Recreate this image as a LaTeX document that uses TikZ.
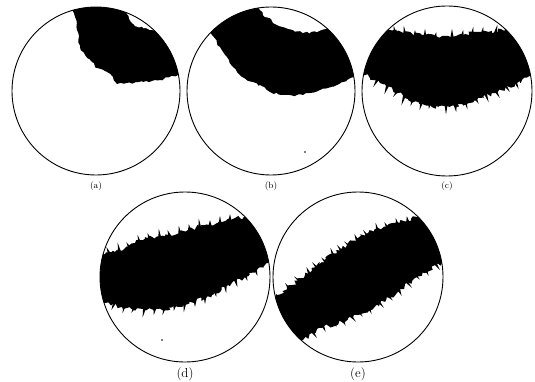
\documentclass[tikz,border=0pt]{standalone}
\usetikzlibrary{decorations.pathmorphing}
\begin{document}
\begin{tikzpicture}[x=1pt,y=-1pt,
  rim/.style={draw=black,line width=0.9pt},
  blob/.style={fill=black,decorate,decoration={random steps,segment length=3pt,amplitude=1.2pt}},
  hairy/.style={fill=black,decorate,decoration={random steps,segment length=2.5pt,amplitude=2.2pt}},
  hole/.style={fill=white,decorate,decoration={random steps,segment length=3pt,amplitude=1.2pt}},
  toplabel/.style={font=\fontsize{9}{10}\selectfont,inner sep=0pt},
  botlabel/.style={font=\fontsize{13}{15}\selectfont,inner sep=0pt}]
\newcommand{\myspike}[4]{\fill (#1-1.8,#2-0.4*#4) -- (#1+1.2*#3,#2+1.2*#4) -- (#1+1.8,#2-0.4*#4) -- cycle;}
\useasboundingbox (0,0) rectangle (535,382);
% (a)
\begin{scope}
  \pgfmathsetseed{11}
  \clip (96,91) circle (84);
  \path[blob] (68,-5) -- (72,8) -- (75,17) -- (77,30) -- (80,47) -- (85,55) -- (92,62) -- (97,68) -- (107,72) -- (113,77) -- (117,84) -- (143,82) -- (160,80) -- (178,75) -- (200,70) -- (200,-5) -- cycle;
  \path[hole] (124,-5) -- (127,14) -- (131,22) -- (135,26) -- (143,28) -- (150,30) -- (156,31) -- (160,29) -- (172,-5) -- cycle;
\end{scope}
\draw[rim] (96,91) circle (84);
% (b)
\begin{scope}
  \pgfmathsetseed{23}
  \clip (271,91) circle (84);
  \path[blob] (200,25) -- (212,35) -- (220,47) -- (227,57) -- (233,67) -- (237,72) -- (242,77) -- (253,82) -- (260,85) -- (270,92) -- (283,95) -- (303,95) -- (320,90) -- (337,85) -- (347,80) -- (355,77) -- (372,72) -- (372,-5) -- (200,-5) -- cycle;
  \path[hole] (257,-5) -- (260,10) -- (263,15) -- (270,18) -- (273,23) -- (277,25) -- (283,27) -- (293,30) -- (303,33) -- (317,32) -- (325,29) -- (332,27) -- (342,-5) -- cycle;
\end{scope}
\draw[rim] (271,91) circle (84);
\fill (305,152) circle (0.8);
% (c)
\begin{scope}
  \pgfmathsetseed{37}
  \clip (447,91) circle (85);
  \path[hairy] (340,75) -- (365,75) -- (380,83) -- (398,93) -- (408,100) -- (422,104) -- (438,107) -- (455,107) -- (475,100) -- (495,93) -- (515,84) -- (532,75) -- (550,75) -- (550,15) -- (520,15) -- (505,29) -- (488,32) -- (465,34) -- (442,36) -- (422,35) -- (398,32) -- (388,30) -- (370,15) -- (340,15) -- cycle;
  \foreach \x/\y/\u/\v in {378/81/-4/5, 388/87/-3/6, 398/92/-4/4, 405/97/-3/7, 413/100/-2/5, 422/103/-2/6, 430/104/-1/4, 446/106/0/7, 455/106/1/5, 465/102/2/6, 475/99/3/4, 485/95/3/6, 495/92/4/5, 505/87/4/4, 515/83/3/5,
                         395/32/-1/-5, 405/34/-1/-7, 415/35/0/-4, 425/36/0/-6, 435/37/1/-4, 452/36/0/-6, 462/35/1/-4, 472/34/1/-6, 482/33/1/-5, 495/32/2/-6}
    {\myspike{\x}{\y}{\u}{\v}}
\end{scope}
\draw[rim] (447,91) circle (85);
% (d)
\begin{scope}
  \pgfmathsetseed{41}
  \clip (185,277) circle (85);
  \path[hairy] (80,258) -- (102,253) -- (115,252) -- (128,247) -- (135,243) -- (148,238) -- (168,235) -- (188,230) -- (205,225) -- (222,222) -- (235,218) -- (247,216) -- (280,205) -- (285,262) -- (268,263) -- (245,277) -- (228,285) -- (212,295) -- (195,302) -- (178,307) -- (162,310) -- (145,310) -- (122,307) -- (105,303) -- (80,303) -- cycle;
  \foreach \x/\y/\u/\v in {110/253/-3/-5, 120/251/-2/-7, 130/247/-3/-4, 140/242/-2/-6, 150/239/-2/-5, 160/237/-1/-7, 170/235/-2/-4, 180/233/-1/-6, 190/230/-1/-5, 200/227/-1/-7, 210/225/0/-4, 220/223/0/-6, 230/220/0/-5,
                         115/304/-3/5, 125/306/-2/6, 135/308/-3/4, 145/309/-2/7, 155/309/-1/5, 165/308/-2/6, 175/306/-1/4, 185/304/-1/7, 195/301/0/5, 205/297/0/6, 215/292/1/4, 225/286/1/6, 235/281/2/5, 245/276/2/4, 255/270/2/5}
    {\myspike{\x}{\y}{\u}{\v}}
\end{scope}
\draw[rim] (185,277) circle (85);
\fill (162,340) circle (0.8);
% (e)
\begin{scope}
  \pgfmathsetseed{53}
  \clip (358,277) circle (85);
  \path[hairy] (260,305) -- (277,295) -- (292,285) -- (305,275) -- (322,262) -- (342,248) -- (358,238) -- (378,228) -- (398,222) -- (417,217) -- (450,200) -- (460,260) -- (442,263) -- (415,278) -- (398,292) -- (378,305) -- (358,315) -- (342,322) -- (322,328) -- (303,340) -- (280,360) -- cycle;
  \foreach \x/\y/\u/\v in {290/288/-4/-4, 300/280/-5/-3, 310/273/-3/-5, 318/267/-5/-4, 326/261/-4/-3, 334/255/-3/-6, 342/250/-4/-4, 350/245/-5/-3, 358/240/-3/-5, 368/235/-4/-4, 378/230/-2/-6, 388/227/-3/-4, 398/224/-2/-5, 408/221/-1/-4,
                         312/333/4/4, 322/326/3/5, 332/323/4/3, 342/320/3/5, 350/317/5/4, 358/313/4/3, 368/308/3/5, 378/303/5/4, 388/297/4/3, 398/290/3/5, 406/283/5/4, 415/276/4/3, 425/270/3/5, 435/265/4/4}
    {\myspike{\x}{\y}{\u}{\v}}
\end{scope}
\draw[rim] (358,277) circle (85);
% labels
\node[toplabel] (la) at (96,186) {(a)};
\node[toplabel] (lb) at (271,186) {(b)};
\node[toplabel] (lc) at (447,186) {(c)};
\node[botlabel] (ld) at (185,374) {(d)};
\node[botlabel] (le) at (358,374) {(e)};
\end{tikzpicture}
\end{document}
